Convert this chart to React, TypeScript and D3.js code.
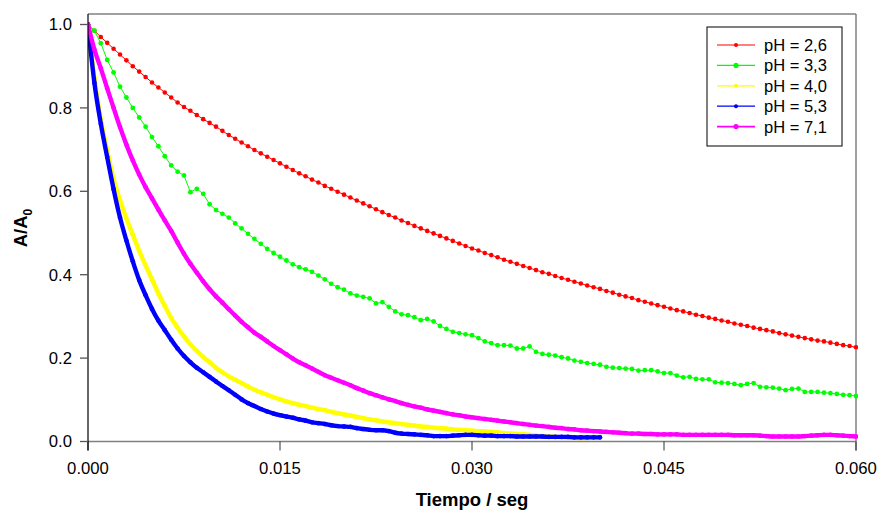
import React from "react";
import * as d3 from "d3";

const W = 877;
const H = 510;

// sampling step of the recorded traces (s)
const TIME_STEP = 0.0005;

const xTicks = [0, 0.015, 0.03, 0.045, 0.06];
const xTickLabels = ["0.000", "0.015", "0.030", "0.045", "0.060"];
const yTicks = [0, 0.2, 0.4, 0.6, 0.8, 1.0];
const yTickLabels = ["0.0", "0.2", "0.4", "0.6", "0.8", "1.0"];

const seriesNames = ["pH = 2,6", "pH = 3,3", "pH = 4,0", "pH = 5,3", "pH = 7,1"];

const ph26 = [1.000,0.985,0.970,0.956,0.942,0.928,0.914,0.900,0.887,0.874,0.861,0.849,0.837,0.825,0.813,0.802,0.793,0.783,0.773,0.764,0.755,0.745,0.735,0.726,0.717,0.708,0.699,0.691,0.683,0.675,0.667,0.659,0.651,0.643,0.636,0.628,0.621,0.613,0.606,0.599,0.592,0.585,0.578,0.571,0.564,0.557,0.550,0.543,0.537,0.530,0.524,0.517,0.511,0.505,0.499,0.493,0.487,0.481,0.475,0.469,0.463,0.458,0.452,0.447,0.442,0.436,0.431,0.426,0.421,0.416,0.411,0.406,0.402,0.397,0.392,0.388,0.383,0.379,0.374,0.370,0.366,0.361,0.357,0.352,0.348,0.344,0.339,0.335,0.331,0.327,0.323,0.319,0.315,0.312,0.308,0.304,0.301,0.297,0.294,0.290,0.287,0.283,0.280,0.277,0.273,0.270,0.267,0.264,0.260,0.257,0.254,0.251,0.248,0.245,0.242,0.240,0.237,0.234,0.231,0.229,0.226];

const ph33 = [1.000,0.985,0.955,0.915,0.885,0.851,0.825,0.800,0.777,0.755,0.730,0.708,0.684,0.662,0.647,0.638,0.598,0.606,0.594,0.569,0.555,0.546,0.537,0.523,0.511,0.498,0.486,0.474,0.462,0.452,0.443,0.434,0.425,0.418,0.413,0.407,0.398,0.389,0.378,0.370,0.364,0.355,0.350,0.347,0.343,0.331,0.334,0.323,0.312,0.305,0.303,0.298,0.291,0.294,0.288,0.277,0.270,0.263,0.260,0.257,0.255,0.248,0.240,0.236,0.231,0.231,0.230,0.223,0.223,0.228,0.215,0.210,0.208,0.206,0.202,0.199,0.194,0.191,0.188,0.186,0.184,0.179,0.177,0.176,0.175,0.174,0.170,0.171,0.171,0.168,0.164,0.164,0.158,0.154,0.155,0.150,0.149,0.149,0.142,0.141,0.140,0.138,0.135,0.138,0.140,0.131,0.130,0.129,0.127,0.123,0.126,0.127,0.119,0.119,0.119,0.117,0.116,0.114,0.112,0.111,0.109];

const ph40 = [1.000,0.872,0.772,0.698,0.630,0.579,0.535,0.496,0.457,0.422,0.389,0.355,0.325,0.296,0.273,0.252,0.233,0.217,0.203,0.190,0.177,0.166,0.156,0.148,0.140,0.132,0.124,0.118,0.112,0.106,0.101,0.096,0.092,0.088,0.085,0.081,0.078,0.075,0.071,0.068,0.065,0.062,0.059,0.056,0.053,0.051,0.048,0.046,0.044,0.042,0.040,0.038,0.036,0.035,0.033,0.032,0.031,0.029,0.028,0.027,0.026,0.025,0.024,0.023,0.022,0.020,0.019,0.018,0.017,0.016,0.014,0.013,0.012,0.011,0.010,0.009,0.009,0.008,0.008];

const ph53 = [1.000,0.860,0.762,0.682,0.605,0.537,0.482,0.432,0.387,0.351,0.318,0.290,0.267,0.244,0.223,0.205,0.190,0.177,0.166,0.155,0.144,0.133,0.123,0.112,0.101,0.092,0.085,0.078,0.072,0.067,0.063,0.060,0.057,0.053,0.050,0.046,0.044,0.042,0.039,0.037,0.036,0.035,0.032,0.030,0.028,0.027,0.027,0.025,0.021,0.019,0.018,0.017,0.016,0.015,0.013,0.013,0.013,0.014,0.015,0.016,0.016,0.015,0.014,0.014,0.013,0.013,0.013,0.012,0.012,0.012,0.012,0.012,0.011,0.011,0.011,0.011,0.010,0.010,0.010,0.010,0.010];

const ph71 = [1.000,0.940,0.895,0.847,0.800,0.754,0.712,0.674,0.640,0.610,0.583,0.556,0.530,0.505,0.477,0.450,0.426,0.405,0.384,0.365,0.348,0.333,0.317,0.302,0.287,0.274,0.261,0.251,0.240,0.229,0.219,0.209,0.199,0.190,0.183,0.175,0.167,0.159,0.153,0.147,0.141,0.135,0.128,0.122,0.116,0.111,0.106,0.101,0.097,0.092,0.088,0.084,0.081,0.077,0.074,0.071,0.068,0.065,0.063,0.060,0.058,0.056,0.054,0.052,0.050,0.048,0.046,0.044,0.042,0.040,0.038,0.037,0.035,0.033,0.032,0.030,0.029,0.027,0.026,0.025,0.024,0.023,0.022,0.021,0.020,0.019,0.019,0.018,0.018,0.017,0.017,0.017,0.017,0.016,0.016,0.016,0.016,0.016,0.016,0.016,0.016,0.015,0.015,0.015,0.015,0.014,0.013,0.012,0.012,0.012,0.012,0.012,0.013,0.014,0.015,0.016,0.016,0.015,0.014,0.013,0.012];

const seriesValues = [ph26, ph33, ph40, ph53, ph71];
const seriesColors = ["#ff0000", "#00ff00", "#ffff00", "#0000ff", "#ff00ff"];
const seriesThick = [false, false, true, true, true];
const markerR = [2.3, 2.4, 2.3, 2.3, 2.3];
const legendMarkerR = [2, 2.6, 2, 2, 2.6];

const left = 88;
const right = 856;
const top = 14;
const bottom = 441.5;

export default function App() {
  const x = d3.scaleLinear().domain([0, 0.06]).range([left, right]);
  const y = d3.scaleLinear().domain([0, 1]).range([bottom, bottom - 417]);
  const line = d3
    .line<[number, number]>()
    .x((d) => x(d[0]))
    .y((d) => y(d[1]));
  const smooth = d3
    .line<[number, number]>()
    .x((d) => x(d[0]))
    .y((d) => y(d[1]))
    .curve(d3.curveMonotoneX);

  const font = "'Liberation Sans', Arial, Helvetica, sans-serif";
  const series = seriesValues.map((vals) =>
    vals.map((v, i) => [i * TIME_STEP, v] as [number, number])
  );

  const legX = 707;
  const legY = 27;
  const legRow = 20.4;

  return (
    <svg
      width={W}
      height={H}
      style={{ position: "absolute", left: 0, top: 0, background: "#fff" }}
      fontFamily={font}
    >
      <rect x={0} y={0} width={W} height={H} fill="#fff" />
      <defs>
        <clipPath id="plot">
          <rect x={left} y={top} width={right - left + 2} height={bottom - top + 3} />
        </clipPath>
      </defs>

      {/* frame */}
      <line x1={left} x2={right} y1={top} y2={top} stroke="#808080" strokeWidth={1.5} />
      <line x1={right} x2={right} y1={top} y2={bottom + 9} stroke="#808080" strokeWidth={1.5} />

      {/* series */}
      <g clipPath="url(#plot)">
        {series.map((pts, si) => (
          <g key={si}>
            {seriesThick[si] && (
              <path
                d={smooth(pts) || ""}
                fill="none"
                stroke={seriesColors[si]}
                strokeWidth={4.4}
                strokeLinejoin="round"
                strokeLinecap="round"
              />
            )}
            <path
              d={(seriesThick[si] ? smooth(pts) : line(pts)) || ""}
              fill="none"
              stroke={seriesColors[si]}
              strokeWidth={1}
            />
            {pts.map((p, i) => (
              <circle key={i} cx={x(p[0])} cy={y(p[1])} r={markerR[si]} fill={seriesColors[si]} />
            ))}
          </g>
        ))}
      </g>

      {/* x axis */}
      <line x1={left} x2={right} y1={bottom} y2={bottom} stroke="#808080" strokeWidth={1.6} />
      {xTicks.map((t, i) => (
        <g key={i}>
          <line x1={x(t)} x2={x(t)} y1={bottom} y2={bottom + 9} stroke="#333" strokeWidth={1} />
          <text x={x(t)} y={474} textAnchor="middle" fontSize={16.7} fill="#000">
            {xTickLabels[i]}
          </text>
        </g>
      ))}

      {/* y axis */}
      <line x1={left} x2={left} y1={top} y2={bottom + 9} stroke="#000" strokeWidth={1.2} />
      {yTicks.map((t, i) => (
        <g key={i}>
          <line x1={left - 8} x2={left} y1={y(t)} y2={y(t)} stroke="#555" strokeWidth={1.3} />
          <text x={72} y={y(t)} dy="0.35em" textAnchor="end" fontSize={16.7} fill="#000">
            {yTickLabels[i]}
          </text>
        </g>
      ))}

      {/* axis titles */}
      <text x={472} y={506} textAnchor="middle" fontSize={18.5} fontWeight="bold" fill="#000">
        Tiempo / seg
      </text>
      <text
        transform={`translate(27, 228) rotate(-90)`}
        textAnchor="middle"
        fontSize={18.5}
        fontWeight="bold"
        fill="#000"
      >
        A/A<tspan fontSize={12} dy={5}>0</tspan>
      </text>

      {/* legend */}
      <rect x={legX} y={legY} width={135} height={119} fill="#fff" stroke="#000" strokeWidth={1} />
      {seriesNames.map((name, i) => {
        const cy = legY + 18 + i * legRow;
        return (
          <g key={i}>
            <line x1={717} x2={755} y1={cy} y2={cy} stroke={seriesColors[i]} strokeWidth={i === 4 ? 1.6 : 1.2} />
            <circle cx={736} cy={cy} r={legendMarkerR[i]} fill={seriesColors[i]} />
            <text x={764} y={cy} dy="0.36em" fontSize={16.5} fill="#000">
              {name}
            </text>
          </g>
        );
      })}
    </svg>
  );
}
